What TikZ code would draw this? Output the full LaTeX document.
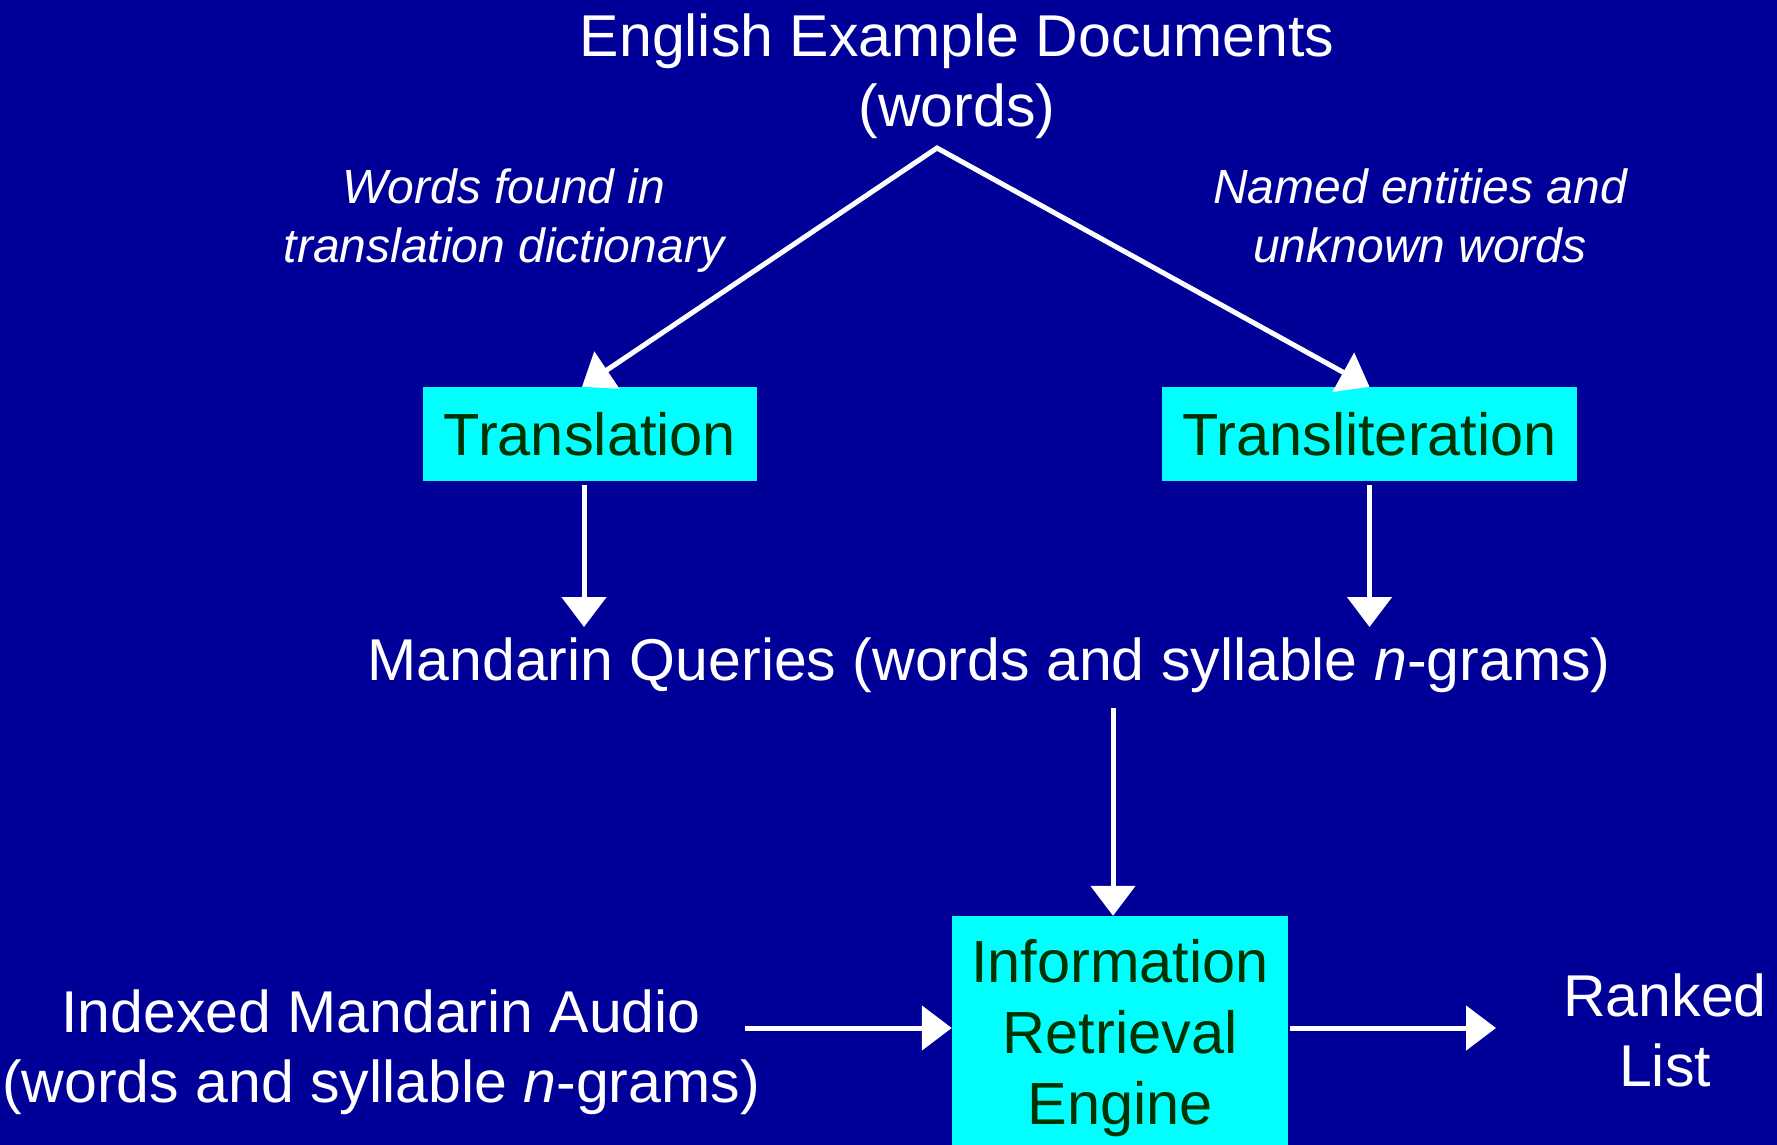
\documentclass[tikz,border=0pt]{standalone}
\usepackage{fontspec}
\setmainfont{Liberation Sans}
\usetikzlibrary{arrows.meta}
\definecolor{bgblue}{HTML}{000099}
\definecolor{boxcyan}{HTML}{00FFFF}
\definecolor{boxtext}{HTML}{003300}
\begin{document}
\begin{tikzpicture}[x=1pt,y=-1pt,
  big/.style={font=\fontsize{59}{70}\selectfont, text=white, align=center, inner sep=0pt},
  lab/.style={font=\fontsize{48}{59}\selectfont\itshape, text=white, align=center, inner sep=0pt},
  box/.style={fill=boxcyan, text=boxtext, font=\fontsize{59.5}{71}\selectfont, align=center, inner sep=0pt},
  tipw/.tip={Triangle[width=44pt,length=30pt]},
  arr/.style={draw=white, line width=5pt, -tipw},
  arrtwo/.style={draw=white, line width=5pt, tipw-tipw},
]
\fill[bgblue] (0,0) rectangle (1777,1145);
\useasboundingbox (0,0) rectangle (1777,1145);

\node[big] (title) at (957,76) {English Example Documents\\(words)};
\node[lab] (lwords) at (504,221) {Words found in\\translation dictionary};
\node[lab] (rwords) at (1420,216) {Named entities and\\unknown words};
\node[box, minimum width=334pt, minimum height=94pt] (tl) at (590,434) {Translation};
\node[box, minimum width=415pt, minimum height=94pt] (tr) at (1369.5,434) {Transliteration};
\node[big] (q) at (989,665) {Mandarin Queries (words and syllable \textit{n}-grams)};
\node[box, minimum width=336pt, minimum height=244pt] (ir) at (1120,1038) {Information\\Retrieval\\Engine};
\node[big] (idx) at (381,1052) {Indexed Mandarin Audio\\(words and syllable \textit{n}-grams)};
\node[big] (rank) at (1665,1030) {Ranked\\List};

\coordinate (apex) at (937,148);
\coordinate (qy) at (0,627);
\coordinate (qb) at (1113,708);
\coordinate (a1) at (745,1028);
\coordinate (a2) at (1496,1028);

\draw[arrtwo] ([xshift=-8pt]tl.north) -- (apex) -- (tr.north);
\draw[arr] ([xshift=-6pt,yshift=-4pt]tl.south) -- ([xshift=-6pt]tl.south |- qy);
\draw[arr] ([yshift=-4pt]tr.south) -- (tr.south |- qy);
\draw[arr] (qb) -- (qb |- ir.north);
\draw[arr] (a1) -- (ir.west |- a1);
\draw[arr] ([xshift=2pt]ir.east |- a1) -- (a2);
\end{tikzpicture}
\end{document}
